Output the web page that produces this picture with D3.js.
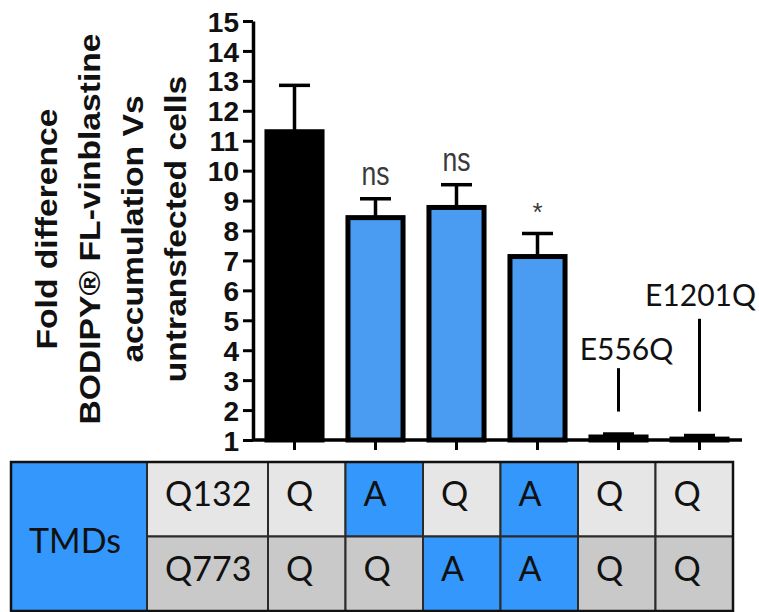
<!DOCTYPE html>
<html>
<head>
<meta charset="utf-8">
<script src="https://cdn.jsdelivr.net/npm/d3@7"></script>
<style>
  html, body { margin: 0; padding: 0; background: #fff; }
  svg { display: block; }
</style>
</head>
<body>
<svg id="chart" width="759" height="612"></svg>
<script>
// ---- data ----
const categories = ["Q132/Q773", "A132/Q773", "Q132/A773", "A132/A773", "E556Q", "E1201Q"];
const foldDifference = [11.3, 8.43, 8.77, 7.13, 1.1, 1.03];
const errorSEM = [1.55, 0.63, 0.76, 0.77, 0.1, 0.12];
const significance = ["", "ns", "ns", "*", "", ""];
const yTickValues = [1, 2, 3, 4, 5, 6, 7, 8, 9, 10, 11, 12, 13, 14, 15];
const mutantLabels = ["", "", "", "", "E556Q", "E1201Q"];
const calloutTop = [null, null, null, null, 3.4, 5.05];
const calloutBottom = 1.95;
const titleLines = ["Fold difference", "BODIPY\u00AE FL-vinblastine", "accumulation Vs", "untransfected cells"];
const tableCorner = "TMDs";
const tableRowLabels = ["Q132", "Q773"];
const q132Residue = ["Q", "A", "Q", "A", "Q", "Q"];
const q773Residue = ["Q", "Q", "A", "A", "Q", "Q"];

// ---- styles ----
const BLUE_BAR = "#4a9cf2";
const BLUE_CELL = "#3397fb";
const ROW_FILL = ["#e6e6e6", "#c9c9c9"];
const calloutFont = "Lato, 'Open Sans', sans-serif";
const axisFont = "'Liberation Sans', Arial, sans-serif";

const svg = d3.select("#chart");

const x = d3.scaleBand().domain(categories).range([254, 740]).paddingInner(0.32).paddingOuter(0.16);
const y = d3.scaleLinear().domain([1, 15]).range([440, 21]);

// y axis title (four lines, rotated)
const title = svg.append("g")
  .attr("transform", "translate(57,229) rotate(-90) scale(1.16,1)");
title.selectAll("text").data(titleLines).join("text")
  .attr("x", 0).attr("y", (d, i) => i * 43)
  .attr("text-anchor", "middle")
  .attr("font-family", axisFont)
  .attr("font-weight", "bold")
  .attr("font-size", 29)
  .attr("fill", "#111")
  .text(d => d);

// y axis
const yAxis = svg.append("g")
  .attr("transform", "translate(253,0)")
  .call(d3.axisLeft(y).tickValues(yTickValues).tickSize(10).tickSizeOuter(0).tickPadding(4));
yAxis.select(".domain").attr("stroke", "#000").attr("stroke-width", 3.5);
yAxis.selectAll(".tick line").attr("stroke", "#000").attr("stroke-width", 3);
yAxis.selectAll(".tick text")
  .attr("font-family", axisFont)
  .attr("font-weight", "bold")
  .attr("font-size", 28)
  .attr("fill", "#111")
  .attr("dy", "0.36em");

// bars
svg.append("g").selectAll("rect").data(categories).join("rect")
  .attr("x", d => x(d))
  .attr("width", x.bandwidth())
  .attr("y", (d, i) => y(foldDifference[i]))
  .attr("height", (d, i) => y(1) - y(foldDifference[i]))
  .attr("fill", (d, i) => i === 0 ? "#000" : BLUE_BAR)
  .attr("stroke", "#000")
  .attr("stroke-width", 5);

// error bars (upper)
const err = svg.append("g").attr("stroke", "#000").attr("stroke-width", 3.5);
categories.forEach((c, i) => {
  const cx = x(c) + x.bandwidth() / 2;
  const top = y(foldDifference[i] + errorSEM[i]);
  err.append("line").attr("x1", cx).attr("x2", cx)
    .attr("y1", y(foldDifference[i])).attr("y2", top);
  err.append("line").attr("x1", cx - 15.5).attr("x2", cx + 15.5)
    .attr("y1", top).attr("y2", top);
});

// x axis
const xAxis = svg.append("g")
  .attr("transform", "translate(0,440)")
  .call(d3.axisBottom(x).tickSize(10).tickSizeOuter(0).tickFormat(""));
xAxis.select(".domain").attr("stroke", "#000").attr("stroke-width", 3.5)
  .attr("d", "M252,0H742");
xAxis.selectAll(".tick line").attr("stroke", "#000").attr("stroke-width", 3);

// significance marks
categories.forEach((c, i) => {
  if (!significance[i]) return;
  const cx = x(c) + x.bandwidth() / 2;
  const top = y(foldDifference[i] + errorSEM[i]);
  const isStar = significance[i] === "*";
  svg.append("text")
    .attr("transform", `translate(${cx},${top - (isStar ? 12 : 14)}) scale(1,${isStar ? 1 : 1.25})`)
    .attr("text-anchor", "middle")
    .attr("font-family", axisFont)
    .attr("font-size", isStar ? 26 : 26.5)
    .attr("fill", "#3a3a3a")
    .text(significance[i]);
});

// mutant callouts
const calloutDx = [0, 0, 0, 0, 8, 1];
const calloutGap = [0, 0, 0, 0, 8, 13];
categories.forEach((c, i) => {
  if (!mutantLabels[i]) return;
  const cx = x(c) + x.bandwidth() / 2;
  svg.append("line")
    .attr("x1", cx).attr("x2", cx)
    .attr("y1", y(calloutBottom)).attr("y2", y(calloutTop[i]))
    .attr("stroke", "#000").attr("stroke-width", 3);
  svg.append("text")
    .attr("x", cx + calloutDx[i])
    .attr("y", y(calloutTop[i]) - calloutGap[i])
    .attr("text-anchor", "middle")
    .attr("font-family", calloutFont)
    .attr("font-size", 30)
    .attr("fill", "#111")
    .text(mutantLabels[i]);
});

// residue table
const table = svg.append("g");
const tTop = 462, rowH = 74.5, tLeft = 11, cornerW = 136, labelW = 121;
const colX0 = tLeft + cornerW + labelW;           // first residue column
const colW = (733 - colX0) / categories.length;
const cellFont = { family: calloutFont, size: 34 };

function cell(xp, yp, w, h, fill, label, baselineOff) {
  table.append("rect").attr("x", xp).attr("y", yp).attr("width", w).attr("height", h)
    .attr("fill", fill).attr("stroke", "#2b2b2b").attr("stroke-width", 2);
  table.append("text").attr("x", xp + 18).attr("y", yp + baselineOff)
    .attr("font-family", cellFont.family).attr("font-size", cellFont.size)
    .attr("fill", "#111").text(label);
}

cell(tLeft, tTop, cornerW, rowH * 2, BLUE_CELL, tableCorner, 91);
[q132Residue, q773Residue].forEach((row, r) => {
  const yp = tTop + r * rowH;
  cell(tLeft + cornerW, yp, labelW, rowH, ROW_FILL[r], tableRowLabels[r], 44);
  row.forEach((res, j) => {
    cell(colX0 + j * colW, yp, colW, rowH, res === "A" ? BLUE_CELL : ROW_FILL[r], res, 44);
  });
});
table.append("rect").attr("x", tLeft).attr("y", tTop)
  .attr("width", 733 - tLeft).attr("height", rowH * 2)
  .attr("fill", "none").attr("stroke", "#111").attr("stroke-width", 2.5);
</script>
</body>
</html>
